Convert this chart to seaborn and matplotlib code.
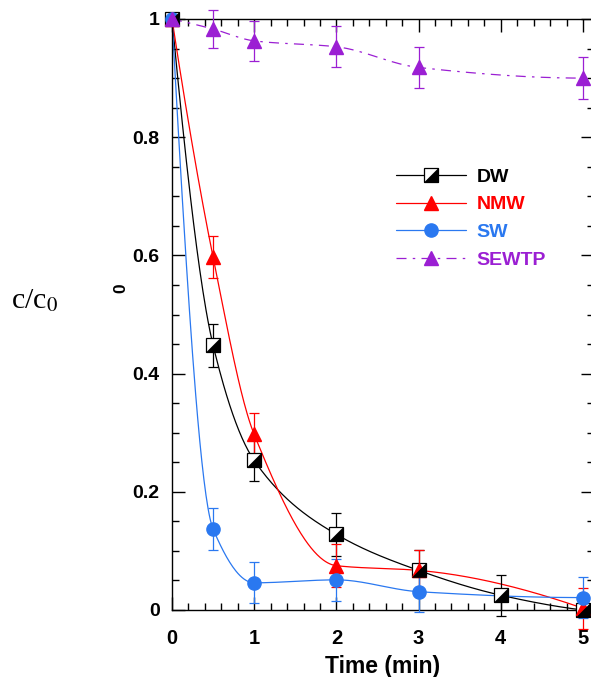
import numpy as np
import pandas as pd
import matplotlib
matplotlib.use("Agg")
import matplotlib.pyplot as plt
import seaborn as sns
from matplotlib.path import Path
from matplotlib.legend_handler import HandlerTuple
from matplotlib.lines import Line2D
from matplotlib.ticker import MultipleLocator, FuncFormatter

# ---- data ----
dw_x = [0, 0.5, 1, 2, 3, 4, 5]
dw_y = [1.0, 0.448, 0.253, 0.128, 0.067, 0.025, 0.0]
dw_err = [0.0, 0.036, 0.035, 0.036, 0.035, 0.035, 0.0]

nmw_x = [0, 0.5, 1, 2, 3, 5]
nmw_y = [1.0, 0.597, 0.297, 0.075, 0.067, 0.003]
nmw_err = [0.0, 0.036, 0.036, 0.036, 0.035, 0.035]

sw_x = [0, 0.5, 1, 2, 3, 5]
sw_y = [1.0, 0.137, 0.046, 0.051, 0.031, 0.021]
sw_err = [0.0, 0.035, 0.035, 0.036, 0.035, 0.035]

se_x = [0, 0.5, 1, 2, 3, 5]
se_y = [1.0, 0.983, 0.963, 0.953, 0.918, 0.900]
se_err = [0.0, 0.032, 0.034, 0.035, 0.035, 0.035]

labels = ["DW", "NMW", "SW", "SEWTP"]
colors = ["#000000", "#ff0000", "#2a78f0", "#9b1fd3"]


def pchip(x, y, xs):
    x = np.asarray(x, float); y = np.asarray(y, float)
    h = np.diff(x); d = np.diff(y) / h
    n = len(x); m = np.zeros(n)
    for k in range(1, n - 1):
        if d[k - 1] * d[k] <= 0:
            m[k] = 0.0
        else:
            w1 = 2 * h[k] + h[k - 1]; w2 = h[k] + 2 * h[k - 1]
            m[k] = (w1 + w2) / (w1 / d[k - 1] + w2 / d[k])

    def endslope(h0, h1, d0, d1):
        s = ((2 * h0 + h1) * d0 - h0 * d1) / (h0 + h1)
        if np.sign(s) != np.sign(d0):
            s = 0.0
        elif np.sign(d0) != np.sign(d1) and abs(s) > 3 * abs(d0):
            s = 3 * d0
        return s
    m[0] = endslope(h[0], h[1], d[0], d[1])
    m[-1] = endslope(h[-1], h[-2], d[-1], d[-2])
    xs = np.asarray(xs)
    idx = np.clip(np.searchsorted(x, xs) - 1, 0, n - 2)
    t = (xs - x[idx]) / h[idx]
    h00 = 2 * t**3 - 3 * t**2 + 1; h10 = t**3 - 2 * t**2 + t
    h01 = -2 * t**3 + 3 * t**2; h11 = t**3 - t**2
    return h00 * y[idx] + h10 * h[idx] * m[idx] + h01 * y[idx + 1] + h11 * h[idx] * m[idx + 1]


sns.set_theme(style="ticks")
plt.rcParams["font.family"] = ["Liberation Sans", "DejaVu Sans"]
plt.rcParams["mathtext.fontset"] = "stix"
for k in ["text.color", "axes.labelcolor", "xtick.color", "ytick.color", "axes.edgecolor"]:
    plt.rcParams[k] = "black"

fig = plt.figure(figsize=(5.91, 6.77), dpi=100)
# x=0 at px 172, x=5 at px 583; right spine just beyond the canvas edge
ax = fig.add_axes([172 / 591, 1 - 610 / 677, (594 - 172) / 591, (610 - 19) / 677])

series = [(dw_x, dw_y, dw_err), (nmw_x, nmw_y, nmw_err), (sw_x, sw_y, sw_err), (se_x, se_y, se_err)]
dashdot = (0, (8, 5, 2, 5))
styles = ["-", "-", "-", dashdot]

rows = []
for (xs_, ys_, _), lab in zip(series, labels):
    xx = np.linspace(0, max(xs_), 400)
    yy = pchip(xs_, ys_, xx)
    rows.append(pd.DataFrame({"t": xx, "c": yy, "s": lab}))
curves = pd.concat(rows, ignore_index=True)

for lab, col, ls in zip(labels, colors, styles):
    sub = curves[curves.s == lab]
    sns.lineplot(data=sub, x="t", y="c", ax=ax, color=col, lw=0.9, linestyle=ls,
                 sort=False, estimator=None, legend=False, zorder=2)

# error bars
for (xs_, ys_, es_), col in zip(series, colors):
    ax.errorbar(xs_, ys_, yerr=es_, fmt="none", ecolor=col, elinewidth=0.9,
                capsize=3.6, capthick=0.9, zorder=3, clip_on=False)

tri_path = Path([(1, -1), (1, 1), (-1, -1), (1, -1)],
                [Path.MOVETO, Path.LINETO, Path.LINETO, Path.CLOSEPOLY])

# DW markers: white square + black lower-right triangle
ax.plot(dw_x, dw_y, ls="none", marker="s", ms=10, mfc="white", mec="black",
        mew=0.9, zorder=4, clip_on=False)
ax.plot(dw_x, dw_y, ls="none", marker=tri_path, ms=10, mfc="black", mec="black",
        mew=0.5, zorder=5, clip_on=False)
ax.plot(nmw_x, nmw_y, ls="none", marker="^", ms=10, color=colors[1], mec=colors[1],
        zorder=4, clip_on=False)
ax.plot(sw_x, sw_y, ls="none", marker="o", ms=9.5, color=colors[2], mec=colors[2],
        zorder=4, clip_on=False)
ax.plot(se_x, se_y, ls="none", marker="^", ms=10, color=colors[3], mec=colors[3],
        zorder=6, clip_on=False)

ax.set_xlim(0, (594 - 172) / ((583 - 172) / 5))
ax.set_ylim(0, 1)
ax.xaxis.set_major_locator(MultipleLocator(1))
ax.xaxis.set_minor_locator(MultipleLocator(0.2))
ax.yaxis.set_major_locator(MultipleLocator(0.2))
ax.yaxis.set_minor_locator(MultipleLocator(0.05))
ax.yaxis.set_major_formatter(FuncFormatter(lambda v, p: "%g" % round(v, 2)))
ax.tick_params(which="both", direction="in", top=True, right=True, width=1, color="black")
ax.tick_params(which="major", length=9.4)
ax.tick_params(which="minor", length=5)
ax.tick_params(axis="y", which="major", pad=9, labelsize=14)
ax.tick_params(axis="x", which="major", pad=14, labelsize=14.5)
for lbl in ax.get_xticklabels() + ax.get_yticklabels():
    lbl.set_fontweight("bold")
for sp in ax.spines.values():
    sp.set_visible(True)
    sp.set_color("black")
    sp.set_linewidth(1)

ax.set_xlabel("Time (min)", fontsize=16.5, fontweight="bold", labelpad=5)
ax.set_ylabel("0", fontsize=12.5, fontweight="bold")
ax.yaxis.set_label_coords((129 - 172) / 419, (610 - 288) / 591)

fig.text(11 / 591, 1 - 301 / 677, "c/c$_0$", fontsize=21.5, family="Liberation Serif",
         va="center", ha="left")

# legend
h_dw_line = Line2D([], [], color="black", lw=0.9)
h_dw_sq = Line2D([], [], ls="none", marker="s", ms=10, mfc="white", mec="black", mew=0.9)
h_dw_tri = Line2D([], [], ls="none", marker=tri_path, ms=10, mfc="black", mec="black", mew=0.5)
h_nmw = Line2D([], [], color=colors[1], lw=0.9, marker="^", ms=10)
h_sw = Line2D([], [], color=colors[2], lw=0.9, marker="o", ms=9.5)
h_se = Line2D([], [], color=colors[3], lw=0.9, ls=dashdot, marker="^", ms=10)
leg = fig.legend(handles=[(h_dw_line, h_dw_sq, h_dw_tri), h_nmw, h_sw, h_se], labels=labels,
                 handler_map={tuple: HandlerTuple(ndivide=1)},
                 loc="upper left", bbox_to_anchor=(396 / 591, 1 - 168 / 677),
                 frameon=False, borderpad=0, borderaxespad=0, handlelength=3.6,
                 handletextpad=0.55, labelspacing=0.52,
                 prop={"family": "Liberation Sans", "weight": "bold", "size": 14})
for txt, col in zip(leg.get_texts(), colors):
    txt.set_color(col)

fig.savefig("out.png", dpi=100)
